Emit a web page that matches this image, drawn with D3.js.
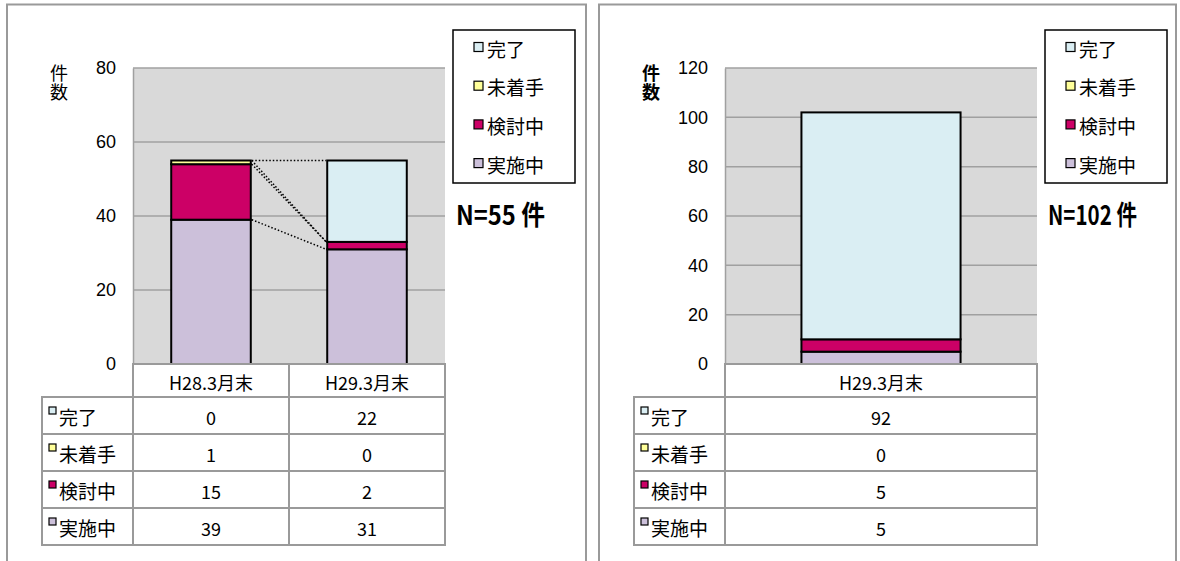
<!DOCTYPE html>
<html>
<head>
<meta charset="utf-8">
<script src="https://cdn.jsdelivr.net/npm/d3@7"></script>
<style>
  body { margin: 0; background: #fff; }
  svg { display: block; }
  text { font-family: "Liberation Sans Narrow", "Noto Sans CJK JP", sans-serif; fill: #000; }
  .jp { font-family: "Noto Sans CJK JP", sans-serif; }
</style>
</head>
<body>
<svg id="chart"></svg>
<script>
// series, in table order (top row first)
const seriesNames = ["完了", "未着手", "検討中", "実施中"];
const seriesColors = ["#DAEEF3", "#FFFF99", "#CC0066", "#CCC0DA"];

// left panel
const leftCategories = ["H28.3月末", "H29.3月末"];
const leftDone = [0, 22];
const leftNotStarted = [1, 0];
const leftReviewing = [15, 2];
const leftOngoing = [39, 31];
const leftTicks = [0, 20, 40, 60, 80];
const leftTotal = "N=55 件";

// right panel
const rightCategories = ["H29.3月末"];
const rightDone = [92];
const rightNotStarted = [0];
const rightReviewing = [5];
const rightOngoing = [5];
const rightTicks = [0, 20, 40, 60, 80, 100, 120];
const rightTotal = "N=102 件";

const W = 1180, H = 561;
const svg = d3.select("#chart").attr("width", W).attr("height", H);

function drawPanel(ox, frameW, cats, cols, ticks, total, boldAxisTitle) {
  const g = svg.append("g").attr("transform", `translate(${ox},0)`);
  const P = { left: 133, right: 445, top: 68, bottom: 364 };
  const tableLeft = 42, headH = 33, rowH = 37;

  // panel frame (open at the bottom)
  g.append("path")
    .attr("d", `M7,${H + 5}V4.5H${frameW}V${H + 5}`)
    .attr("fill", "none").attr("stroke", "#9a9a9a").attr("stroke-width", 2);

  // table rows per category
  const rows = cats.map((c, i) => {
    const r = { cat: c };
    seriesNames.forEach((s, k) => (r[s] = cols[k][i]));
    return r;
  });

  const x = d3.scaleBand().domain(cats).range([P.left, P.right]);
  const y = d3.scaleLinear().domain([0, d3.max(ticks)]).range([P.bottom, P.top]);
  const barW = x.bandwidth() * 0.51;

  // plot background + grid
  g.append("rect").attr("x", P.left).attr("y", P.top)
    .attr("width", P.right - P.left).attr("height", P.bottom - P.top).attr("fill", "#d9d9d9");
  g.append("g").selectAll("line").data(ticks.filter(t => t > 0)).join("line")
    .attr("x1", P.left).attr("x2", P.right)
    .attr("y1", d => y(d)).attr("y2", d => y(d))
    .attr("stroke", "#a0a0a0").attr("stroke-width", 1.5);

  // y axis
  const yAxis = g.append("g").attr("transform", `translate(${P.left},0)`)
    .call(d3.axisLeft(y).tickValues(ticks).tickSize(0).tickPadding(17));
  yAxis.select(".domain").attr("stroke", "#a0a0a0").attr("stroke-width", 1.5);
  yAxis.selectAll("text").attr("font-size", 18)
    .style("font-family", '"Liberation Sans Narrow", "Liberation Sans", sans-serif');

  // axis title, written vertically
  g.append("text").attr("class", "jp").attr("x", 59).attr("y", 64)
    .style("writing-mode", "vertical-rl").style("letter-spacing", "1px")
    .attr("font-size", 18)
    .attr("font-weight", boldAxisTitle ? "bold" : "normal")
    .text("件数");

  // stacked bars
  const keys = seriesNames.slice().reverse(); // bottom-up
  const stack = d3.stack().keys(keys)(rows);
  const layer = g.append("g").selectAll("g").data(stack).join("g")
    .attr("fill", d => seriesColors[seriesNames.indexOf(d.key)]);
  layer.selectAll("rect").data(d => d.filter(p => p[1] - p[0] > 0)).join("rect")
    .attr("x", d => x(d.data.cat) + (x.bandwidth() - barW) / 2)
    .attr("width", barW)
    .attr("y", d => y(d[1]))
    .attr("height", d => y(d[0]) - y(d[1]))
    .attr("stroke", "#000").attr("stroke-width", 2);

  // series lines between neighbouring bars
  if (cats.length > 1) {
    const links = [];
    stack.forEach(s => {
      for (let i = 0; i < cats.length - 1; i++) {
        links.push({ key: s.key, a: s[i], b: s[i + 1] });
      }
    });
    g.append("g").selectAll("line").data(links).join("line")
      .attr("x1", d => x(d.a.data.cat) + (x.bandwidth() + barW) / 2 + 1)
      .attr("x2", d => x(d.b.data.cat) + (x.bandwidth() - barW) / 2 - 1)
      .attr("y1", d => y(d.a[1]))
      .attr("y2", d => y(d.b[1]))
      .attr("stroke", "#000").attr("stroke-width", 1.5)
      .attr("stroke-dasharray", "1.5,2");
  }

  // data table
  const tg = g.append("g");
  const grid = "#9a9a9a";
  // header row
  tg.selectAll(".hd").data(cats).join("rect")
    .attr("x", d => x(d)).attr("y", P.bottom)
    .attr("width", x.bandwidth()).attr("height", headH)
    .attr("fill", "#fff").attr("stroke", grid).attr("stroke-width", 2);
  tg.selectAll(".hdt").data(cats).join("text")
    .attr("x", d => x(d) + x.bandwidth() / 2).attr("y", P.bottom + headH / 2 + 1)
    .attr("text-anchor", "middle").attr("dominant-baseline", "central")
    .attr("font-size", 18).text(d => d);

  seriesNames.forEach((s, k) => {
    const ry = P.bottom + headH + k * rowH;
    tg.append("rect").attr("x", tableLeft).attr("y", ry)
      .attr("width", P.left - tableLeft).attr("height", rowH)
      .attr("fill", "#fff").attr("stroke", grid).attr("stroke-width", 2);
    tg.append("rect").attr("x", tableLeft + 7).attr("y", ry + 10)
      .attr("width", 7).attr("height", 7)
      .attr("fill", seriesColors[k]).attr("stroke", "#000").attr("stroke-width", 1.2);
    tg.append("text").attr("class", "jp").attr("x", tableLeft + 17).attr("y", ry + rowH / 2 + 1)
      .attr("dominant-baseline", "central").attr("font-size", 19).text(s);
    cats.forEach(c => {
      tg.append("rect").attr("x", x(c)).attr("y", ry)
        .attr("width", x.bandwidth()).attr("height", rowH)
        .attr("fill", "#fff").attr("stroke", grid).attr("stroke-width", 2);
    });
    tg.selectAll(null).data(rows).join("text")
      .attr("x", d => x(d.cat) + x.bandwidth() / 2).attr("y", ry + rowH / 2 + 1)
      .attr("text-anchor", "middle").attr("dominant-baseline", "central")
      .attr("font-size", 18).text(d => d[s]);
  });

  // legend
  const lg = g.append("g").attr("transform", "translate(453,30)");
  lg.append("rect").attr("width", 122).attr("height", 153)
    .attr("fill", "#fff").attr("stroke", "#000").attr("stroke-width", 1.5);
  seriesNames.forEach((s, k) => {
    const cy = 17 + k * 38.7;
    lg.append("rect").attr("x", 21).attr("y", cy - 4.5).attr("width", 9).attr("height", 9)
      .attr("fill", seriesColors[k]).attr("stroke", "#000").attr("stroke-width", 1.2);
    lg.append("text").attr("class", "jp").attr("x", 34).attr("y", cy + 1)
      .attr("dominant-baseline", "central").attr("font-size", 19).text(s);
  });

  // total
  g.append("text").attr("x", 456).attr("y", 225)
    .attr("font-size", 27).attr("font-weight", "bold")
    .attr("textLength", total.length > 7 ? 113 : 89).attr("lengthAdjust", "spacingAndGlyphs")
    .text(total);
}

drawPanel(0, 586, leftCategories, [leftDone, leftNotStarted, leftReviewing, leftOngoing], leftTicks, leftTotal, false);
drawPanel(592, 584, rightCategories, [rightDone, rightNotStarted, rightReviewing, rightOngoing], rightTicks, rightTotal, true);
</script>
</body>
</html>
